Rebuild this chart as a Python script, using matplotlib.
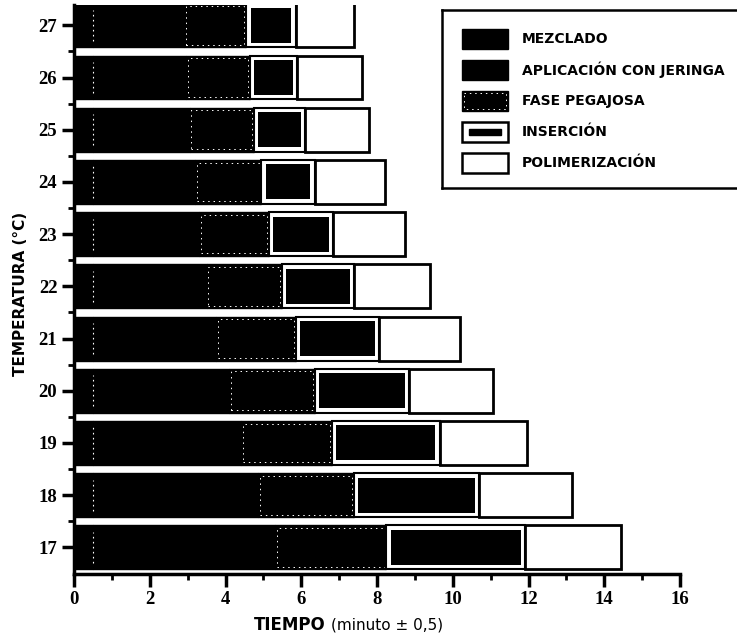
import matplotlib.pyplot as plt
from matplotlib.patches import Rectangle
import numpy as np

# tiempos de fin de cada fase (minutos) por temperatura
temperaturas = [17, 18, 19, 20, 21, 22, 23, 24, 25, 26, 27]
fin_mezclado = [0.5, 0.5, 0.5, 0.5, 0.5, 0.5, 0.5, 0.5, 0.5, 0.5, 0.5]
fin_aplicacion = [5.3, 4.85, 4.4, 4.1, 3.75, 3.5, 3.3, 3.2, 3.05, 2.95, 2.9]
fin_pegajosa = [8.25, 7.4, 6.8, 6.35, 5.85, 5.5, 5.15, 4.95, 4.75, 4.65, 4.55]
fin_insercion = [11.9, 10.7, 9.65, 8.85, 8.05, 7.4, 6.85, 6.35, 6.1, 5.9, 5.85]
fin_polimerizacion = [14.45, 13.15, 11.95, 11.05, 10.2, 9.4, 8.75, 8.2, 7.8, 7.6, 7.4]

fases = ["MEZCLADO", "APLICACIÓN CON JERINGA", "FASE PEGAJOSA",
         "INSERCIÓN", "POLIMERIZACIÓN"]

y = np.array(temperaturas)
mez = np.array(fin_mezclado)
apl = np.array(fin_aplicacion)
peg = np.array(fin_pegajosa)
ins = np.array(fin_insercion)
pol = np.array(fin_polimerizacion)

fig = plt.figure(figsize=(7.37, 6.41), dpi=100)
ax = fig.add_axes([0.1004, 0.1045, 0.8223, 0.8877])

h = 0.84
# mezclado y aplicacion con jeringa
ax.barh(y, mez, height=h, color='black', edgecolor='black', lw=1)
ax.barh(y, apl - mez, left=mez, height=h, color='black', edgecolor='black', lw=1)
ax.vlines(mez, y - 0.3, y + 0.3, colors='white', linestyles=(0, (1.5, 3)), lw=0.8)

# fase pegajosa: negro con borde blanco tenue
ax.barh(y, peg - apl, left=apl, height=h, color='black', edgecolor='black', lw=1)
ax.barh(y, peg - apl - 0.1, left=apl + 0.05, height=h - 0.1, color='none',
        edgecolor='white', linestyle=(0, (1.5, 4)), lw=0.7)

# insercion: caja blanca con barra negra dentro
ax.barh(y, ins - peg, left=peg, height=h, color='white', edgecolor='black', lw=1.5)
ax.barh(y, ins - peg - 0.22, left=peg + 0.11, height=h - 0.17, color='black')

# polimerizacion
ax.barh(y, pol - ins, left=ins, height=h, color='white', edgecolor='black', lw=2)

ax.set_xlim(0, 16)
ax.set_ylim(16.49, 27.39)
ax.set_xticks(range(0, 17, 2))
ax.set_xticks(range(1, 16, 2), minor=True)
ax.set_yticks(temperaturas)
ax.set_yticks([t + 0.5 for t in temperaturas[:-1]], minor=True)

for s in ['top', 'right']:
    ax.spines[s].set_visible(False)
for s in ['left', 'bottom']:
    ax.spines[s].set_linewidth(2.5)

ax.tick_params(which='major', length=9, width=2.5, pad=3)
ax.tick_params(which='minor', length=4, width=2)
for lab in ax.get_xticklabels() + ax.get_yticklabels():
    lab.set_family('Liberation Serif')
    lab.set_weight('bold')
    lab.set_fontsize(13.5)

fig.text(21 / 737, 1 - 294 / 641, 'TEMPERATURA (°C)', rotation=90, ha='center',
         va='center', fontsize=11, weight='bold', family='DejaVu Sans')
fig.text(326 / 737, 1 - 625 / 641, 'TIEMPO', ha='right', va='center',
         fontsize=12, weight='bold', family='DejaVu Sans')
fig.text(331 / 737, 1 - 625 / 641, '(minuto ± 0,5)', ha='left', va='center',
         fontsize=11, family='DejaVu Sans')

# leyenda dibujada a mano en unos ejes propios (coordenadas en pixeles)
lg = fig.add_axes([441.7 / 737, 1 - 188 / 641, 0.41, (188 - 10) / 641])
lg.set_xlim(441.7, 441.7 + 0.41 * 737)
lg.set_ylim(188, 10)
lg.set_xticks([])
lg.set_yticks([])
for s in lg.spines.values():
    s.set_linewidth(1.8)

filas = [39, 70, 101, 132, 163]
for i, (nombre, yc) in enumerate(zip(fases, filas)):
    x0, w, hh = 462, 46, 20
    if i < 2:
        lg.add_patch(Rectangle((x0, yc - hh / 2), w, hh, fc='black', ec='black'))
    elif i == 2:
        lg.add_patch(Rectangle((x0, yc - hh / 2), w, hh, fc='black', ec='black'))
        lg.add_patch(Rectangle((x0 + 2, yc - hh / 2 + 2), w - 4, hh - 4, fc='none',
                               ec='white', ls=(0, (1.5, 4)), lw=0.7))
    elif i == 3:
        lg.add_patch(Rectangle((x0, yc - hh / 2), w, hh, fc='white', ec='black', lw=1.8))
        lg.add_patch(Rectangle((x0 + 7, yc - 3), w - 14, 6, fc='black', ec='black'))
    else:
        lg.add_patch(Rectangle((x0, yc - hh / 2), w, hh, fc='white', ec='black', lw=1.8))
    lg.text(522, yc, nombre, ha='left', va='center', fontsize=10, weight='bold',
            family='DejaVu Sans')

fig.savefig('out.png', dpi=100)
